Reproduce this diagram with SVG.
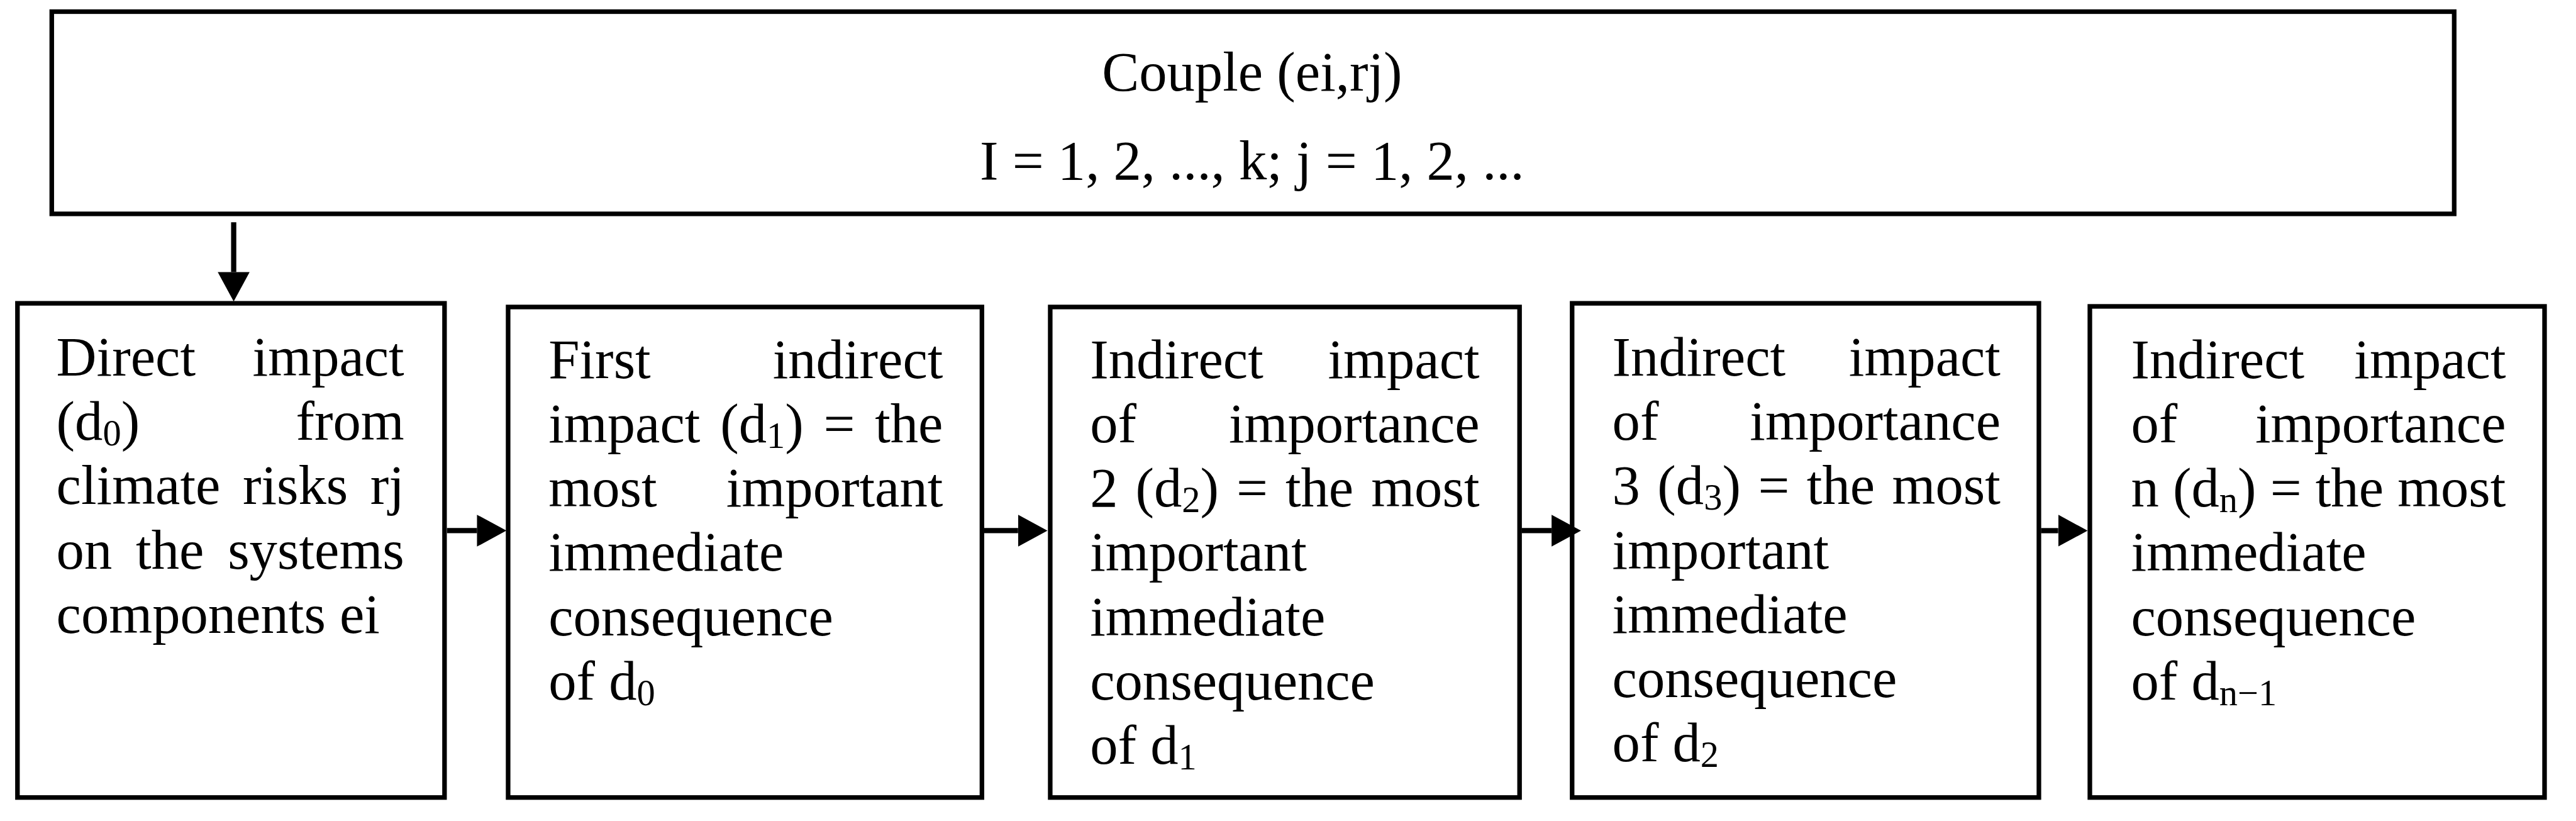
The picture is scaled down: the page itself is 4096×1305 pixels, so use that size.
<svg xmlns="http://www.w3.org/2000/svg" width="4096" height="1305" viewBox="0 0 4096 1305">
<style>
.box{fill:#fff;stroke:#000;stroke-width:7.5}
.t{font-family:"Liberation Serif","Times New Roman",serif;font-size:91px;fill:#000}
.s{font-size:60px}
.c{stroke:#000;stroke-width:8.5;fill:none;marker-end:url(#ah)}
</style>
<defs>
<marker id="ah" markerUnits="userSpaceOnUse" markerWidth="48" markerHeight="52" refX="0" refY="26" orient="auto"><path d="M0,0 L48,26 L0,52 z" fill="#000"/></marker>
</defs>
<rect width="4096" height="1305" fill="#fff"/>
<g transform="scale(0.974)">
<g id="couple">
<rect class="box" x="84.5" y="19" width="3922" height="330"/>
<text class="t" x="2044" y="148" text-anchor="middle">Couple (ei,rj)</text>
<text class="t" x="2044" y="293" text-anchor="middle">I = 1, 2, ..., k; j = 1, 2, ...</text>
</g>
<g id="n1">
<rect class="box" x="28.5" y="495" width="697.2" height="806.5"/>
<text class="t" y="613"><tspan x="92">Direct</tspan><tspan x="412.3">impact</tspan></text>
<text class="t" y="717.9"><tspan x="92">(d</tspan><tspan class="s" dy="9">0</tspan><tspan dy="-9">)</tspan><tspan x="483.1">from</tspan></text>
<text class="t" y="822.8"><tspan x="92">climate</tspan><tspan x="396.2">risks</tspan><tspan x="604.4">rj</tspan></text>
<text class="t" y="927.7"><tspan x="92">on</tspan><tspan x="221.8">the</tspan><tspan x="371.8">systems</tspan></text>
<text class="t" x="92" y="1032.6">components ei</text>
</g>
<g id="n2">
<rect class="box" x="829.5" y="501" width="773.5" height="800.5"/>
<text class="t" y="617"><tspan x="895.5">First</tspan><tspan x="1261.5">indirect</tspan></text>
<text class="t" y="721.9"><tspan x="895.5">impact</tspan><tspan x="1175.8">(d</tspan><tspan class="s" dy="9">1</tspan><tspan dy="-9">)</tspan><tspan x="1344.5">=</tspan><tspan x="1428.3">the</tspan></text>
<text class="t" y="826.8"><tspan x="895.5">most</tspan><tspan x="1185.6">important</tspan></text>
<text class="t" x="895.5" y="931.7">immediate</text>
<text class="t" x="895.5" y="1036.6">consequence</text>
<text class="t" x="895.5" y="1141.5">of d<tspan class="s" dy="9">0</tspan></text>
</g>
<g id="n3">
<rect class="box" x="1714.5" y="501" width="766.2" height="800.5"/>
<text class="t" y="617"><tspan x="1779.5">Indirect</tspan><tspan x="2167.8">impact</tspan></text>
<text class="t" y="721.9"><tspan x="1779.5">of</tspan><tspan x="2006.1">importance</tspan></text>
<text class="t" y="826.8"><tspan x="1779.5">2</tspan><tspan x="1853.7">(d</tspan><tspan class="s" dy="9">2</tspan><tspan dy="-9">)</tspan><tspan x="2018.5">=</tspan><tspan x="2098.5">the</tspan><tspan x="2238.4">most</tspan></text>
<text class="t" x="1779.5" y="931.7">important</text>
<text class="t" x="1779.5" y="1036.6">immediate</text>
<text class="t" x="1779.5" y="1141.5">consequence</text>
<text class="t" x="1779.5" y="1246.4">of d<tspan class="s" dy="9">1</tspan></text>
</g>
<g id="n4">
<rect class="box" x="2566.5" y="495" width="762" height="806.5"/>
<text class="t" y="613"><tspan x="2632">Indirect</tspan><tspan x="3018.3">impact</tspan></text>
<text class="t" y="717.9"><tspan x="2632">of</tspan><tspan x="2856.6">importance</tspan></text>
<text class="t" y="822.8"><tspan x="2632">3</tspan><tspan x="2705.7">(d</tspan><tspan class="s" dy="9">3</tspan><tspan dy="-9">)</tspan><tspan x="2870">=</tspan><tspan x="2949.5">the</tspan><tspan x="3088.9">most</tspan></text>
<text class="t" x="2632" y="927.7">important</text>
<text class="t" x="2632" y="1032.6">immediate</text>
<text class="t" x="2632" y="1137.5">consequence</text>
<text class="t" x="2632" y="1242.4">of d<tspan class="s" dy="9">2</tspan></text>
</g>
<g id="n5">
<rect class="box" x="3411.7" y="500" width="742.3" height="801.5"/>
<text class="t" y="617"><tspan x="3479">Indirect</tspan><tspan x="3843.3">impact</tspan></text>
<text class="t" y="721.9"><tspan x="3479">of</tspan><tspan x="3681.6">importance</tspan></text>
<text class="t" y="826.8"><tspan x="3479">n</tspan><tspan x="3547.2">(d</tspan><tspan class="s" dy="9">n</tspan><tspan dy="-9">)</tspan><tspan x="3706">=</tspan><tspan x="3780">the</tspan><tspan x="3913.9">most</tspan></text>
<text class="t" x="3479" y="931.7">immediate</text>
<text class="t" x="3479" y="1036.6">consequence</text>
<text class="t" x="3479" y="1141.5">of d<tspan class="s" dy="9">n−1</tspan></text>
</g>
<g id="connectors">
<line class="c" x1="381.5" y1="362.7" x2="381.5" y2="444"/>
<line class="c" x1="729.7" y1="866" x2="778.7" y2="866"/>
<line class="c" x1="1606.5" y1="866" x2="1662" y2="866"/>
<line class="c" x1="2484" y1="866" x2="2533" y2="866"/>
<line class="c" x1="3332" y1="866" x2="3360" y2="866"/>
</g>
</g>
</svg>
